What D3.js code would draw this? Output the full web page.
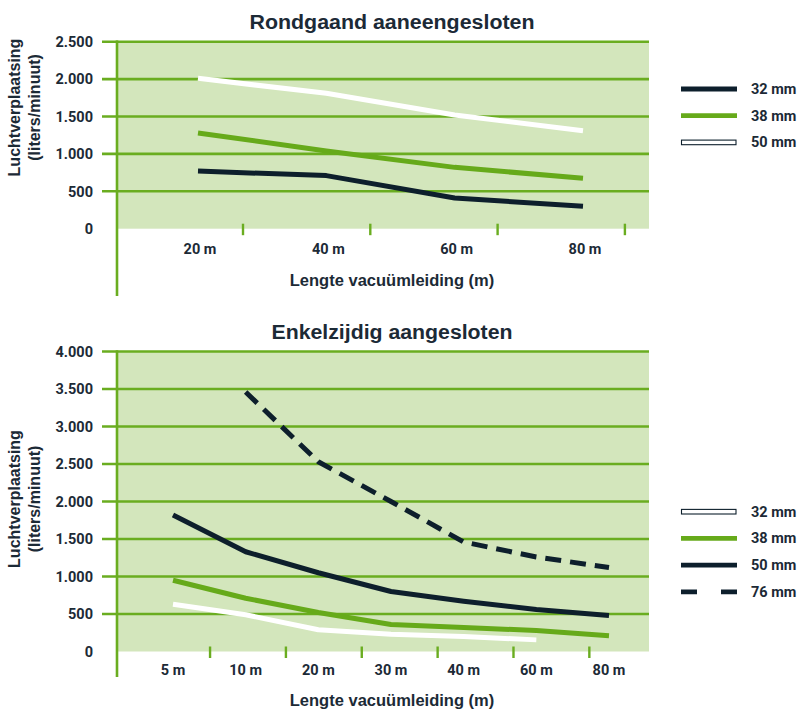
<!DOCTYPE html>
<html>
<head>
<meta charset="utf-8">
<script src="https://cdn.jsdelivr.net/npm/d3@7/dist/d3.min.js"></script>
<style>
  html, body { margin: 0; padding: 0; background: #ffffff; }
  svg { display: block; }
</style>
</head>
<body>
<svg id="chart" width="797" height="710"></svg>
<script>
// ---------- DATA ----------
const topTitle = "Rondgaand aaneengesloten";
const topCategories = ["20 m", "40 m", "60 m", "80 m"];
const topYTicks = [0, 500, 1000, 1500, 2000, 2500];
const top32 = [770, 710, 410, 300];
const top38 = [1280, 1040, 820, 675];
const top50 = [2010, 1810, 1520, 1310];

const bottomTitle = "Enkelzijdig aangesloten";
const bottomCategories = ["5 m", "10 m", "20 m", "30 m", "40 m", "60 m", "80 m"];
const bottomYTicks = [0, 500, 1000, 1500, 2000, 2500, 3000, 3500, 4000];
const bot32 = [630, 490, 290, 230, 200, 155, null];
const bot38 = [950, 710, 520, 360, 320, 280, 210];
const bot50 = [1820, 1330, 1050, 800, 670, 560, 480];
const bot76 = [null, 3460, 2530, 2000, 1460, 1260, 1120];

const yTitleLines = ["Luchtverplaatsing", "(liters/minuut)"];
const xTitle = "Lengte vacuümleiding (m)";

// ---------- STYLE ----------
const C = {
  dark: "#0d1f2c",
  green: "#66aa1a",
  grid: "#6aad20",
  bg: "#d3e6bc",
  text: "#1c2a36",
  white: "#ffffff"
};
const titleFont = "'Liberation Sans', Arial, sans-serif";
const tickFont = "Roboto, 'Liberation Sans', sans-serif";
const tickWeight = 700;

const nl = d3.formatLocale({ decimal: ",", thousands: ".", grouping: [3], currency: ["€", ""] });
const fmt = nl.format(",d");

const svg = d3.select("#chart");

function drawChart(cfg) {
  const g = svg.append("g");
  const y = d3.scaleLinear().domain(cfg.yDomain).range([cfg.y0, cfg.yTop]);
  const xp = d3.scalePoint().domain(cfg.categories).range(cfg.pointRange);
  const xb = d3.scaleBand().domain(cfg.categories).range(cfg.bandRange);

  // background
  g.append("rect")
    .attr("x", cfg.plotLeft).attr("y", y(cfg.yDomain[1]))
    .attr("width", cfg.plotRight - cfg.plotLeft)
    .attr("height", y(0) - y(cfg.yDomain[1]))
    .attr("fill", C.bg);

  // gridlines (not at 0)
  g.selectAll(".grid").data(cfg.yTicks.filter(d => d > 0)).enter().append("line")
    .attr("x1", cfg.gridLeft).attr("x2", cfg.plotRight)
    .attr("y1", d => y(d)).attr("y2", d => y(d))
    .attr("stroke", C.grid).attr("stroke-width", 2.6);

  // y tick labels
  g.selectAll(".ylab").data(cfg.yTicks).enter().append("text")
    .attr("x", 93).attr("y", d => y(d) + 5.2)
    .attr("text-anchor", "end")
    .attr("font-family", tickFont).attr("font-weight", tickWeight)
    .attr("font-size", "14.5px").attr("fill", C.text)
    .text(d => fmt(d));

  // vertical axis line
  g.append("line")
    .attr("x1", 117).attr("x2", 117)
    .attr("y1", y(cfg.yDomain[1]) - 1.3).attr("y2", cfg.axisBottom)
    .attr("stroke", C.grid).attr("stroke-width", 2.6);

  // x tick marks at band boundaries
  const tickCats = cfg.categories.slice(0, cfg.nTicks);
  g.selectAll(".xtick").data(tickCats).enter().append("line")
    .attr("x1", d => xb(d) + xb.step()).attr("x2", d => xb(d) + xb.step())
    .attr("y1", y(0) - 5).attr("y2", y(0) + 6.5)
    .attr("stroke", C.grid).attr("stroke-width", 2.4);

  // x tick labels
  g.selectAll(".xlab").data(cfg.categories).enter().append("text")
    .attr("x", d => xp(d) + cfg.labelShift).attr("y", cfg.xLabelY)
    .attr("text-anchor", "middle")
    .attr("font-family", tickFont).attr("font-weight", tickWeight)
    .attr("font-size", "14.5px").attr("fill", C.text)
    .text(d => d);

  // titles
  g.append("text")
    .attr("x", 392).attr("y", cfg.titleY)
    .attr("text-anchor", "middle")
    .attr("font-family", titleFont).attr("font-weight", "bold")
    .attr("font-size", "20px").attr("fill", C.text)
    .attr("textLength", cfg.titleLen).attr("lengthAdjust", "spacingAndGlyphs")
    .text(cfg.title);

  g.append("text")
    .attr("x", 392).attr("y", cfg.xTitleY)
    .attr("text-anchor", "middle")
    .attr("font-family", titleFont).attr("font-weight", "bold")
    .attr("font-size", "16.5px").attr("fill", C.text)
    .text(xTitle);

  const yt = g.append("text")
    .attr("transform", `translate(0,${cfg.yTitleCenter}) rotate(-90)`)
    .attr("text-anchor", "middle")
    .attr("font-family", titleFont).attr("font-weight", "bold")
    .attr("font-size", "16px").attr("fill", C.text);
  yTitleLines.forEach((t, i) => {
    yt.append("tspan").attr("x", 0).attr("y", 20 + i * 19.5).text(t);
  });

  // lines
  const line = d3.line()
    .defined(d => d != null)
    .x((d, i) => xp(cfg.categories[i]))
    .y(d => y(d));
  cfg.series.forEach(s => {
    g.append("path")
      .attr("d", line(s.values))
      .attr("fill", "none")
      .attr("stroke", s.color)
      .attr("stroke-width", 5)
      .attr("stroke-linejoin", "round")
      .attr("stroke-dasharray", s.dash ? "16,9" : null);
  });

  // legend
  cfg.legend.forEach((s, i) => {
    const ly = cfg.legendY + i * cfg.legendStep;
    if (s.color === C.white) {
      g.append("rect")
        .attr("x", 681.5).attr("y", ly - 2.3).attr("width", 54.5).attr("height", 4.6)
        .attr("fill", C.white).attr("stroke", C.dark).attr("stroke-width", 1.1);
    } else {
      g.append("line")
        .attr("x1", 681).attr("x2", 737).attr("y1", ly).attr("y2", ly)
        .attr("stroke", s.color).attr("stroke-width", 4.8)
        .attr("stroke-dasharray", s.dash ? "16,24" : null);
    }
    g.append("text")
      .attr("x", 751).attr("y", ly + 5)
      .attr("font-family", tickFont).attr("font-weight", tickWeight)
      .attr("font-size", "14.5px").attr("fill", C.text)
      .text(s.name);
  });
}

drawChart({
  title: topTitle, titleY: 28.5, titleLen: 285,
  categories: topCategories,
  yDomain: [0, 2500], yTicks: topYTicks,
  y0: 228.7, yTop: 41.7,
  plotLeft: 118, plotRight: 649, gridLeft: 102,
  axisBottom: 296,
  pointRange: [198, 583], bandRange: [115.7, 624.9], nTicks: 4,
  labelShift: 2, xLabelY: 253.5, xTitleY: 286,
  yTitleCenter: 107.5,
  series: [
    { name: "50 mm", values: top50, color: C.white },
    { name: "38 mm", values: top38, color: C.green },
    { name: "32 mm", values: top32, color: C.dark }
  ],
  legend: [
    { name: "32 mm", color: C.dark },
    { name: "38 mm", color: C.green },
    { name: "50 mm", color: C.white }
  ],
  legendY: 89, legendStep: 26.7
});

drawChart({
  title: bottomTitle, titleY: 338.5, titleLen: 241,
  categories: bottomCategories,
  yDomain: [0, 4000], yTicks: bottomYTicks,
  y0: 651.5, yTop: 351.5,
  plotLeft: 118, plotRight: 649, gridLeft: 102,
  axisBottom: 677,
  pointRange: [173, 609], bandRange: [134.2, 665.2], nTicks: 6,
  labelShift: 0, xLabelY: 675, xTitleY: 706,
  yTitleCenter: 499,
  series: [
    { name: "32 mm", values: bot32, color: C.white },
    { name: "38 mm", values: bot38, color: C.green },
    { name: "50 mm", values: bot50, color: C.dark },
    { name: "76 mm", values: bot76, color: C.dark, dash: true }
  ],
  legend: [
    { name: "32 mm", color: C.white },
    { name: "38 mm", color: C.green },
    { name: "50 mm", color: C.dark },
    { name: "76 mm", color: C.dark, dash: true }
  ],
  legendY: 511.7, legendStep: 26.7
});
</script>
</body>
</html>
